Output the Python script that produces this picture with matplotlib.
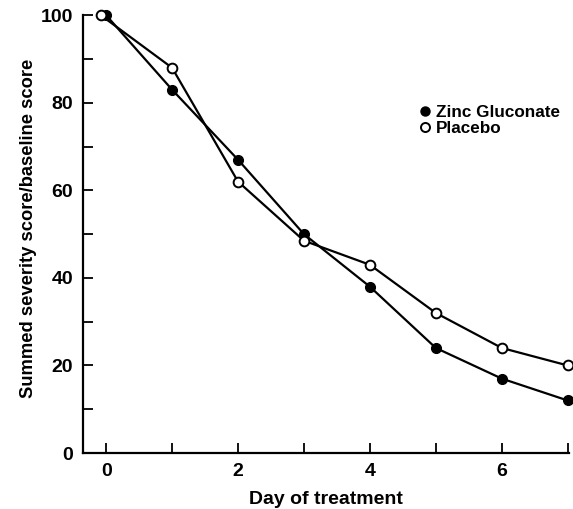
import matplotlib.pyplot as plt
from matplotlib.lines import Line2D

days = [0, 1, 2, 3, 4, 5, 6, 7]
placebo_days = [-0.08, 1, 2, 3, 4, 5, 6, 7]
zinc = [100, 83, 67, 50, 38, 24, 17, 12]
placebo = [100, 88, 62, 48.5, 43, 32, 24, 20]


def main():
    plt.rcParams["font.family"] = ["Liberation Sans", "DejaVu Sans"]
    plt.rcParams["font.weight"] = "bold"

    fig = plt.figure(figsize=(5.73, 5.09), dpi=100)
    ax = fig.add_axes([0.145, 0.110, 0.848, 0.860])

    ax.plot(days, zinc, color="black", lw=1.6, marker="o", ms=7,
            mfc="black", mec="black", clip_on=False, zorder=3)
    ax.plot(placebo_days, placebo, color="black", lw=1.6, marker="o", ms=7,
            mfc="white", mec="black", mew=1.4, clip_on=False, zorder=3)

    ax.set_xlim(-0.35, 7.02)
    ax.set_ylim(0, 100)
    ax.set_xticks([0, 2, 4, 6])
    ax.set_xticks([1, 3, 5, 7], minor=True)
    ax.set_yticks([0, 20, 40, 60, 80, 100])
    ax.set_yticks([10, 30, 50, 70, 90], minor=True)
    ax.tick_params(which="both", direction="in", length=7, width=1.3,
                   labelsize=14)
    ax.tick_params(axis="x", pad=7)
    ax.tick_params(axis="y", pad=7)

    for s in ["top", "right"]:
        ax.spines[s].set_visible(False)
    for s in ["left", "bottom"]:
        ax.spines[s].set_linewidth(1.6)

    ax.set_xlabel("Day of treatment", fontsize=14, fontweight="bold",
                  labelpad=8)
    ax.set_ylabel("Summed severity score/baseline score", fontsize=13.2,
                  fontweight="bold")
    ax.yaxis.set_label_coords(-0.095, 0.514)

    handles = [
        Line2D([], [], ls="none", marker="o", ms=6.5, mfc="black",
               mec="black"),
        Line2D([], [], ls="none", marker="o", ms=6.5, mfc="white",
               mec="black", mew=1.4),
    ]
    ax.legend(handles, ["Zinc Gluconate", "Placebo"], loc="upper left",
              bbox_to_anchor=(0.675, 0.815), frameon=False,
              handlelength=0.6, handletextpad=0.35, borderpad=0,
              labelspacing=0.05, prop={"weight": "bold", "size": 12.3})

    fig.savefig("out.png", dpi=100)


if __name__ == "__main__":
    main()
